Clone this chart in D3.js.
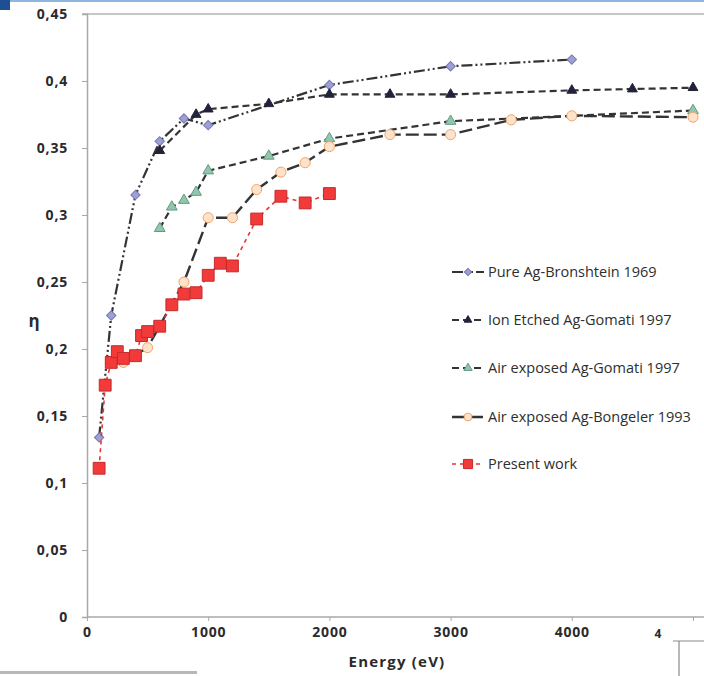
<!DOCTYPE html>
<html>
<head>
<meta charset="utf-8">
<script src="https://cdn.jsdelivr.net/npm/d3@7"></script>
<style>
  body { margin: 0; background: #fff; }
  svg { display: block; }
</style>
</head>
<body>
<div id="chart"></div>
<script>
// values, energy in eV and eta
var seriesNames = [
    "Pure Ag-Bronshtein 1969",
    "Ion Etched Ag-Gomati 1997",
    "Air exposed Ag-Gomati 1997",
    "Air exposed Ag-Bongeler 1993",
    "Present work"
];

var bronshteinE   = [100, 200, 400, 600, 800, 1000, 2000, 3000, 4000];
var bronshteinEta = [0.134, 0.225, 0.315, 0.355, 0.372, 0.367, 0.397, 0.411, 0.416];

var ionEtchedE   = [600, 900, 1000, 1500, 2000, 2500, 3000, 4000, 4500, 5000];
var ionEtchedEta = [0.348, 0.375, 0.379, 0.383, 0.390, 0.390, 0.390, 0.393, 0.394, 0.395];

var airGomatiE   = [600, 700, 800, 900, 1000, 1500, 2000, 3000, 5000];
var airGomatiEta = [0.290, 0.306, 0.311, 0.317, 0.333, 0.344, 0.357, 0.370, 0.378];

var bongelerE   = [300, 500, 800, 1000, 1200, 1400, 1600, 1800, 2000, 2500, 3000, 3500, 4000, 5000];
var bongelerEta = [0.190, 0.201, 0.250, 0.298, 0.298, 0.319, 0.332, 0.339, 0.351, 0.360, 0.360, 0.371, 0.374, 0.373];

var presentE   = [100, 150, 200, 250, 300, 400, 450, 500, 600, 700, 800, 900, 1000, 1100, 1200, 1400, 1600, 1800, 2000];
var presentEta = [0.111, 0.173, 0.190, 0.198, 0.193, 0.195, 0.210, 0.213, 0.217, 0.233, 0.241, 0.242, 0.255, 0.264, 0.262, 0.297, 0.314, 0.309, 0.316];

var xTicks = [0, 1000, 2000, 3000, 4000, 5000];
var yTicks = [0, 0.05, 0.1, 0.15, 0.2, 0.25, 0.3, 0.35, 0.4, 0.45];

var width = 704, height = 676;

function zip(xs, ys) {
    return xs.map((x, i) => ({ e: x, eta: ys[i] }));
}

// style for each series: marker, colours, dash
var styles = [
    { data: zip(bronshteinE, bronshteinEta), symbol: d3.symbolSquare, size: 44, rotate: 45,
      fill: "#9e9fd4", stroke: "#7677b5", line: "#333", dash: "11,3,2,3,2,3", lw: 2.2 },
    { data: zip(ionEtchedE, ionEtchedEta), symbol: d3.symbolTriangle, size: 42, rotate: 0,
      fill: "#22223a", stroke: "#22223a", line: "#333", dash: "7,4", lw: 2.2 },
    { data: zip(airGomatiE, airGomatiEta), symbol: d3.symbolTriangle, size: 50, rotate: 0,
      fill: "#93c6ad", stroke: "#5f9c82", line: "#333", dash: "7,4", lw: 2.2 },
    { data: zip(bongelerE, bongelerEta), symbol: d3.symbolCircle, size: 80, rotate: 0,
      fill: "#fde3cb", stroke: "#f2a46a", line: "#333", dash: "13,5", lw: 2.4 },
    { data: zip(presentE, presentEta), symbol: d3.symbolSquare, size: 140, rotate: 0,
      fill: "#f23a3a", stroke: "#c42a2a", line: "#e83535", dash: "4,4", lw: 1.6 }
];

var x = d3.scaleLinear().domain([0, 5000]).range([87, 693]);
var y = d3.scaleLinear().domain([0, 0.45]).range([617, 14]);

var commaFmt = d3.formatLocale({ decimal: ",", thousands: ".", grouping: [3], currency: ["", ""] }).format("~g");

var svg = d3.select("#chart").append("svg")
    .attr("width", width)
    .attr("height", height)
    .style("font-family", "'Open Sans', sans-serif");

svg.append("rect").attr("width", width).attr("height", height).attr("fill", "#fff");

// bits of the screenshot frame
svg.append("rect").attr("x", 0).attr("y", 0).attr("width", width).attr("height", 2).attr("fill", "#8fb6e0");
svg.append("rect").attr("x", 0).attr("y", 0).attr("width", 10).attr("height", 10).attr("fill", "#1f4f93");

// plot frame lines
svg.append("line").attr("x1", 82).attr("x2", width).attr("y1", 14).attr("y2", 14)
    .attr("stroke", "#b5b5b5").attr("stroke-width", 1.5);
svg.append("line").attr("x1", 87).attr("x2", width).attr("y1", 617).attr("y2", 617)
    .attr("stroke", "#a8a8a8").attr("stroke-width", 1.5);

var yAxis = svg.append("g")
    .attr("transform", "translate(87,0)")
    .call(d3.axisLeft(y).tickValues(yTicks).tickFormat(commaFmt).tickSize(5).tickPadding(14));
yAxis.select(".domain").attr("stroke", "#a8a8a8").attr("stroke-width", 1.5);

var xAxis = svg.append("g")
    .attr("transform", "translate(0,617)")
    .call(d3.axisBottom(x).tickValues(xTicks).tickFormat(d => d < 5000 ? d : "").tickSize(4).tickPadding(6));
xAxis.select(".domain").remove();

svg.selectAll(".tick line").attr("stroke", "#a8a8a8");
svg.selectAll(".tick text")
    .attr("fill", "#2a2a2a")
    .style("font-family", "'Open Sans', sans-serif")
    .style("font-weight", "bold")
    .style("font-size", "14px")
    .style("letter-spacing", "0.8px");

// axis titles
svg.append("text")
    .attr("x", 397).attr("y", 667)
    .attr("text-anchor", "middle")
    .attr("fill", "#2a2a2a")
    .style("font-weight", "bold")
    .style("font-size", "15px")
    .style("letter-spacing", "1.2px")
    .text("Energy (eV)");

svg.append("text")
    .attr("x", 34).attr("y", 327)
    .attr("text-anchor", "middle")
    .attr("fill", "#2a2a2a")
    .style("font-weight", "bold")
    .style("font-size", "17px")
    .text("η");

var line = d3.line().x(d => x(d.e)).y(d => y(d.eta));

styles.forEach(function(s) {
    var g = svg.append("g");
    g.append("path")
        .datum(s.data)
        .attr("d", line)
        .attr("fill", "none")
        .attr("stroke", s.line)
        .attr("stroke-width", s.lw)
        .attr("stroke-dasharray", s.dash);
    g.selectAll("path.mark")
        .data(s.data)
        .join("path")
        .attr("class", "mark")
        .attr("d", d3.symbol(s.symbol, s.size))
        .attr("transform", d => `translate(${x(d.e)},${y(d.eta)}) rotate(${s.rotate})`)
        .attr("fill", s.fill)
        .attr("stroke", s.stroke)
        .attr("stroke-width", 1);
});

// legend
var legend = svg.append("g").attr("transform", "translate(452,0)");
var legendY = [272, 320, 368, 417, 464];

styles.forEach(function(s, i) {
    var row = legend.append("g").attr("transform", `translate(0,${legendY[i]})`);
    row.append("line")
        .attr("x1", 0).attr("x2", 32).attr("y1", 0).attr("y2", 0)
        .attr("stroke", s.line)
        .attr("stroke-width", s.lw)
        .attr("stroke-dasharray", s.dash);
    row.append("path")
        .attr("d", d3.symbol(s.symbol, s.size * 0.6))
        .attr("transform", `translate(16,0) rotate(${s.rotate})`)
        .attr("fill", s.fill)
        .attr("stroke", s.stroke);
    row.append("text")
        .attr("x", 36).attr("y", 5)
        .attr("fill", "#2e2e2e")
        .style("font-size", "14.5px")
        .text(seriesNames[i]);
});

// cut off pieces at the bottom of the screenshot
svg.append("text")
    .attr("x", 658).attr("y", 638)
    .attr("text-anchor", "middle")
    .attr("fill", "#2a2a2a")
    .style("font-weight", "bold")
    .style("font-size", "12px")
    .text("4");
svg.append("path")
    .attr("d", "M673,641H704M679,641V676")
    .attr("fill", "none")
    .attr("stroke", "#8a8a8a")
    .attr("stroke-width", 1.2);
svg.append("rect").attr("x", 0).attr("y", 671).attr("width", 197).attr("height", 3).attr("fill", "#b8b8b8");
</script>
</body>
</html>
